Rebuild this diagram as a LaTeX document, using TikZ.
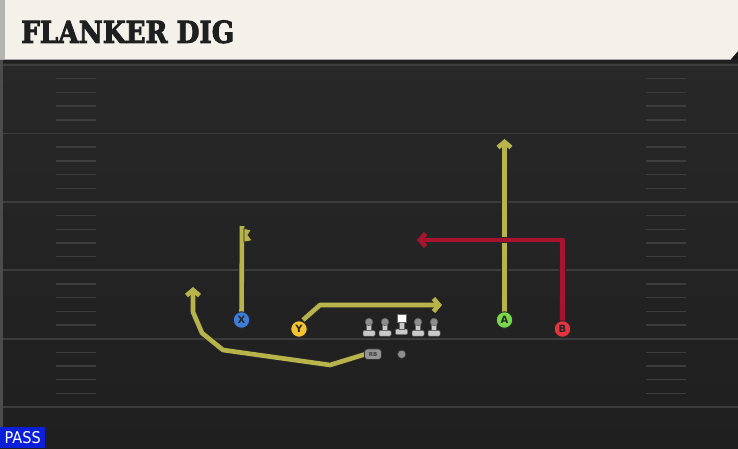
\documentclass[tikz,border=0pt]{standalone}
\usepackage{fontspec}
\usetikzlibrary{arrows.meta}
\newfontfamily\titlefont{DejaVu Serif}[BoldFeatures={FakeBold=3}]
\newfontfamily\labfont{DejaVu Sans}
\definecolor{cream}{HTML}{F4F1EA}
\definecolor{barleft}{HTML}{B4B4B0}
\definecolor{fieldtop}{HTML}{282828}
\definecolor{fieldbot}{HTML}{1F1F1F}
\definecolor{yardline}{HTML}{3C3C3C}
\definecolor{hashc}{HTML}{3D3D3D}
\definecolor{routey}{HTML}{B8B44C}
\definecolor{router}{HTML}{A8142F}
\definecolor{pblue}{HTML}{3D7FD8}
\definecolor{pyellow}{HTML}{F3C330}
\definecolor{pgreen}{HTML}{79D84A}
\definecolor{pred}{HTML}{E3343F}
\definecolor{passblue}{HTML}{0B1FD8}
\definecolor{linegray}{HTML}{C9C9C9}
\definecolor{headgray}{HTML}{8E8E8E}
\begin{document}
\begin{tikzpicture}[x=1pt,y=-1pt,
  yard/.style={draw=yardline, line width=1.8pt},
  hashmark/.style={draw=hashc, line width=1.4pt},
  player/.style={circle, draw=black!85, line width=0.9pt, minimum size=16.5pt, inner sep=0pt,
    font=\labfont\bfseries\fontsize{10}{10}\selectfont, text=black!85},
  route/.style={line width=4.6pt, line join=round,
    preaction={draw=black!85, line width=6.4pt}},
  tip/.style={-{Straight Barb[length=5.5pt,width=13pt]}},
  lineman/.pic={
    \fill[linegray, draw=black!60, line width=0.5pt, rounded corners=1pt] (-6,8.5) rectangle (6,14);
    \fill[linegray, draw=black!60, line width=0.5pt] (-2.6,0) rectangle (2.6,8.7);
    \fill[headgray, draw=black!60, line width=0.5pt] (0,0) circle (3.8);
  },
  centerman/.pic={
    \fill[linegray, draw=black!60, line width=0.5pt, rounded corners=1pt] (-6,7) rectangle (6,12.5);
    \fill[linegray, draw=black!60, line width=0.5pt] (-2.6,0) rectangle (2.6,7.2);
    \fill[white, draw=black!60, line width=0.5pt] (-4.3,-8) rectangle (4.3,0);
  }]
\useasboundingbox (0,0) rectangle (738,448);
% background
\fill[black!92] (0,0) rectangle (738,448);
\shade[top color=fieldtop, bottom color=fieldbot] (0,62) rectangle (738,448);
\fill[black!88] (0,59) rectangle (738,63);
\fill[black!70] (0,59) rectangle (2.5,448);
% yard lines
\foreach \k in {0,...,5} {
  \draw[yard] (2.5,65+68.4*\k) -- (738,65+68.4*\k);
}
% hash marks
\foreach \k in {0,...,4} {
  \foreach \j in {1,...,4} {
    \draw[hashmark] (56,65+68.4*\k+13.7*\j) -- (96,65+68.4*\k+13.7*\j);
    \draw[hashmark] (646,65+68.4*\k+13.7*\j) -- (686,65+68.4*\k+13.7*\j);
  }
}
% title bar
\fill[cream] (0,0) -- (738,0) -- (738,51) -- (731,59) -- (0,59) -- cycle;
\fill[barleft] (0,0) rectangle (5,59);
\draw[black!35, line width=0.8pt] (0,59) -- (731,59);
\node[anchor=south west, inner sep=0pt, text=black!88] (title) at (21,43.5)
  {\resizebox{213pt}{22.5pt}{\titlefont\bfseries FLANKER DIG}};
% PASS label
\node[anchor=south west, fill=passblue, inner sep=0pt, minimum width=45pt, minimum height=20.5pt,
  text=white] (pass) at (0,448) {\resizebox{36pt}{12pt}{\labfont PASS}};
% formation coordinates
\coordinate (lt) at (369,322);
\coordinate (lg) at (385,322);
\coordinate (ct) at (401.5,322);
\coordinate (rg) at (418,322);
\coordinate (rt) at (434,322);
\coordinate (xtop) at (242,226);
\coordinate (ybend) at (320,305);
\coordinate (yend) at (442,305);
\coordinate (atop) at (504.5,139);
\coordinate (bcorner) at (562.5,240);
\coordinate (bend) at (417,240);
\coordinate (rb1) at (330,365);
\coordinate (rb2) at (223,350);
\coordinate (rb3) at (202,333);
\coordinate (rb4) at (193,312);
\coordinate (rbend) at (193,287);
% routes
\draw[route, draw=routey, tip] (504.5,318) -- (atop);
\draw[route, draw=routey] (241.5,318) -- (xtop);
\fill[routey, draw=black!85, line width=0.6pt] (244,228.5) -- (251,230) -- (248,235) -- (252,240.5) -- (244,242) -- cycle;
\draw[route, draw=routey, tip] (303,320) -- (ybend) -- (yend);
\draw[route, draw=routey, tip] (366,354) -- (rb1) -- (rb2) -- (rb3) -- (rb4) -- (rbend);
\draw[route, draw=router, tip] (562.5,326) -- (bcorner) -- (bend);
% linemen
\pic at (lt) {lineman};
\pic at (lg) {lineman};
\pic at (ct) {centerman};
\pic at (rg) {lineman};
\pic at (rt) {lineman};
% backs
\node[draw=black!80, fill=headgray, line width=0.7pt, circle, minimum size=8.5pt, inner sep=0pt] (qb) at (401.7,354.3) {};
\node[draw=black!80, fill=headgray!95, line width=0.7pt, rounded corners=3pt, minimum width=17pt, minimum height=10.5pt, inner sep=0pt,
  font=\labfont\bfseries\fontsize{5.5}{5.5}\selectfont, text=black!75] (rb) at (373,354.2) {RB};
% players
\node[player, fill=pblue] (X) at (241.5,320) {X};
\node[player, fill=pyellow] (Y) at (299,329) {Y};
\node[player, fill=pgreen] (A) at (504.5,320) {A};
\node[player, fill=pred] (B) at (562.5,329) {B};
\end{tikzpicture}
\end{document}
